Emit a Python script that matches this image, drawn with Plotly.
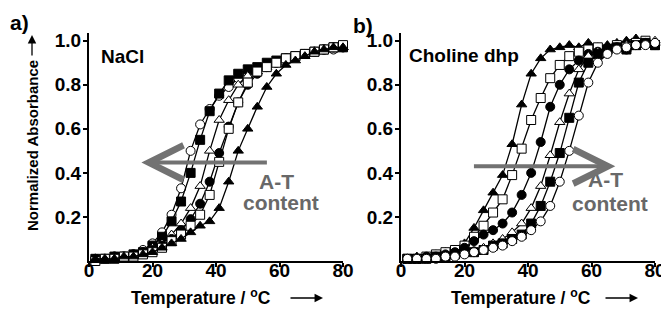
import plotly.graph_objects as go

# ---------------- data ----------------
temps = [2, 5, 8, 11, 14, 17, 20, 23, 26, 29, 32, 35, 38, 41, 44, 47, 50, 53, 56, 59, 62, 65, 68, 71, 74, 77, 80]

# panel a) NaCl
nacl_open_circle = [.01, .01, .02, .02, .03, .05, .08, .13, .21, .33, .50, .62, .69, .75, .79, .83, .85, .87, .89, .90, .92, .93, .94, .95, .96, .96, .97]
nacl_filled_square = [.01, .01, .02, .02, .03, .04, .07, .11, .18, .27, .40, .55, .68, .76, .82, .85, .87, .88, .90, .91, .92, .93, .94, .95, .96, .97, .97]
nacl_open_triangle = [.01, .01, .01, .02, .03, .04, .06, .08, .12, .17, .24, .34, .50, .64, .73, .80, .84, .86, .88, .90, .92, .93, .94, .95, .96, .96, .97]
nacl_filled_circle = [.01, .01, .02, .02, .03, .04, .05, .07, .10, .14, .19, .26, .36, .49, .61, .72, .80, .85, .88, .90, .92, .93, .94, .95, .96, .97, .97]
nacl_open_square = [.00, .01, .01, .02, .02, .03, .04, .06, .09, .12, .16, .21, .30, .45, .60, .72, .81, .86, .88, .90, .92, .93, .94, .95, .96, .97, .98]
nacl_filled_triangle = [.01, .01, .01, .02, .02, .03, .04, .06, .08, .10, .13, .16, .18, .24, .36, .50, .60, .70, .79, .85, .89, .91, .93, .95, .96, .97, .97]

# panel b) Choline dhp
chol_filled_triangle = [.01, .02, .02, .03, .04, .05, .08, .15, .23, .31, .39, .53, .71, .85, .92, .96, .97, .98, .97, .99, .97, .98, .99, 1.0, 1.01, .98, .99]
chol_open_square = [.01, .01, .02, .03, .04, .05, .07, .11, .16, .22, .28, .39, .51, .64, .74, .83, .89, .93, .95, .96, .97, .96, .98, .97, .99, 1.0, .98]
chol_filled_circle = [.01, .01, .02, .02, .03, .04, .06, .09, .12, .14, .17, .22, .30, .40, .54, .70, .80, .87, .91, .94, .95, .96, .97, .96, .98, .99, .98]
chol_open_triangle = [.01, .01, .01, .02, .02, .03, .04, .05, .06, .08, .10, .13, .17, .24, .34, .48, .63, .76, .87, .93, .95, .96, .97, .98, .97, .99, 1.0]
chol_filled_square = [.01, .01, .01, .02, .02, .03, .04, .04, .05, .07, .08, .10, .12, .17, .25, .36, .49, .65, .81, .90, .94, .96, .97, .96, .98, .99, .98]
chol_open_circle = [.01, .01, .01, .01, .02, .02, .03, .04, .05, .06, .07, .09, .11, .14, .18, .25, .36, .50, .66, .81, .90, .94, .96, .97, .98, .98, .99]

x_ticks = [0, 20, 40, 60, 80]
y_ticks = [0.2, 0.4, 0.6, 0.8, 1.0]
y_ticktext = ["0.2", "0.4", "0.6", "0.8", "1.0"]

# ---------------- styling ----------------
OFF = 8                      # default page margin of the html body
W, H = 669 - OFF, 310 - OFF
FONT = "Liberation Sans, Arial, sans-serif"
GRAY = "#686868"

panel_a = [
    (nacl_open_circle, "circle", "white"),
    (nacl_filled_square, "square", "black"),
    (nacl_open_triangle, "triangle-up", "white"),
    (nacl_filled_circle, "circle", "black"),
    (nacl_open_square, "square", "white"),
    (nacl_filled_triangle, "triangle-up", "black"),
]
panel_b = [
    (chol_filled_triangle, "triangle-up", "black"),
    (chol_open_square, "square", "white"),
    (chol_filled_circle, "circle", "black"),
    (chol_open_triangle, "triangle-up", "white"),
    (chol_filled_square, "square", "black"),
    (chol_open_circle, "circle", "white"),
]

fig = go.Figure()
for series, xa, ya in [(panel_a, "x", "y"), (panel_b, "x2", "y2")]:
    for vals, sym, fill in series:
        fig.add_trace(go.Scatter(
            x=temps, y=vals, xaxis=xa, yaxis=ya, mode="lines+markers",
            line=dict(color="black", width=1.3),
            marker=dict(symbol=sym, size=9, color=fill, line=dict(color="black", width=1)),
            cliponaxis=False, showlegend=False,
        ))

def px_x(p):
    return (p - OFF) / W

def px_y(p):
    return 1 - (p - OFF) / H

axis_common = dict(
    showline=True, linewidth=2, linecolor="black", ticks="outside", ticklen=4,
    tickwidth=2, tickcolor="black", showgrid=False, zeroline=False, automargin=False,
    tickfont=dict(family=FONT, size=19, color="black", weight="bold"),
)
ydom = [px_y(261), px_y(33)]
fig.update_layout(
    width=W, height=H, margin=dict(l=0, r=0, t=0, b=0),
    paper_bgcolor="white", plot_bgcolor="white", showlegend=False,
    xaxis=dict(domain=[px_x(89), px_x(343)], range=[0, 80], tickvals=x_ticks, anchor="y",
               ticklabelstandoff=-13, **axis_common),
    yaxis=dict(domain=ydom, range=[0, 1.035], tickvals=y_ticks, ticktext=y_ticktext, anchor="x",
               ticklabelstandoff=-2, **axis_common),
    xaxis2=dict(domain=[px_x(401), px_x(655)], range=[0, 80], tickvals=x_ticks, anchor="y2",
                ticklabelstandoff=-13, **axis_common),
    yaxis2=dict(domain=ydom, range=[0, 1.035], tickvals=y_ticks, ticktext=y_ticktext, anchor="x2",
                ticklabelstandoff=-2, **axis_common),
)

ann = []
def txt(text, x, y, size, xanchor="left", yanchor="middle", color="black", xref="paper", yref="paper", angle=0):
    ann.append(dict(text=text, x=x, y=y, xref=xref, yref=yref, showarrow=False,
                    xanchor=xanchor, yanchor=yanchor, textangle=angle,
                    font=dict(family=FONT, size=size, color=color, weight="bold")))

# panel letters
txt("a)", px_x(8), px_y(9), 21, yanchor="top")
txt("b)", px_x(351), px_y(12), 21, yanchor="top")
# salt labels
txt("NaCl", px_x(99), px_y(56), 19)
txt("Choline dhp", px_x(407), px_y(55), 19)
# axis titles
txt("Normalized Absorbance", px_x(32), px_y(146), 15, xanchor="center", angle=-90)
txt("Temperature / <sup>o</sup>C", px_x(129), px_y(297), 17.5)
txt("Temperature / <sup>o</sup>C", px_x(449), px_y(297), 17.5)
# A-T content labels
txt("A-T", 59, 0.36, 21, xanchor="center", color=GRAY, xref="x", yref="y")
txt("content", 60.5, 0.265, 21, xanchor="center", color=GRAY, xref="x", yref="y")
txt("A-T", 64.3, 0.37, 21, xanchor="center", color=GRAY, xref="x2", yref="y2")
txt("content", 65.8, 0.26, 21, xanchor="center", color=GRAY, xref="x2", yref="y2")

# big gray arrows
ann.append(dict(x=16.5, y=0.447, ax=56.5, ay=0.447, xref="x", yref="y", axref="x", ayref="y",
                text="", showarrow=True, arrowhead=5, arrowwidth=4, arrowsize=1.7, arrowcolor="#727272"))
ann.append(dict(x=67.5, y=0.43, ax=22.5, ay=0.43, xref="x2", yref="y2", axref="x2", ayref="y2",
                text="", showarrow=True, arrowhead=5, arrowwidth=4, arrowsize=1.7, arrowcolor="#727272"))
# axis-title arrows
for xe in (323, 638):
    ann.append(dict(x=px_x(xe), y=px_y(298), ax=-34, ay=0, xref="paper", yref="paper",
                    text="", showarrow=True, arrowhead=2, arrowwidth=1.3, arrowsize=1.3, arrowcolor="black"))
ann.append(dict(x=px_x(32), y=px_y(35), ax=0, ay=22, xref="paper", yref="paper",
                text="", showarrow=True, arrowhead=2, arrowwidth=1.3, arrowsize=1.3, arrowcolor="black"))

fig.update_layout(annotations=ann)
fig.write_html("out.html")
